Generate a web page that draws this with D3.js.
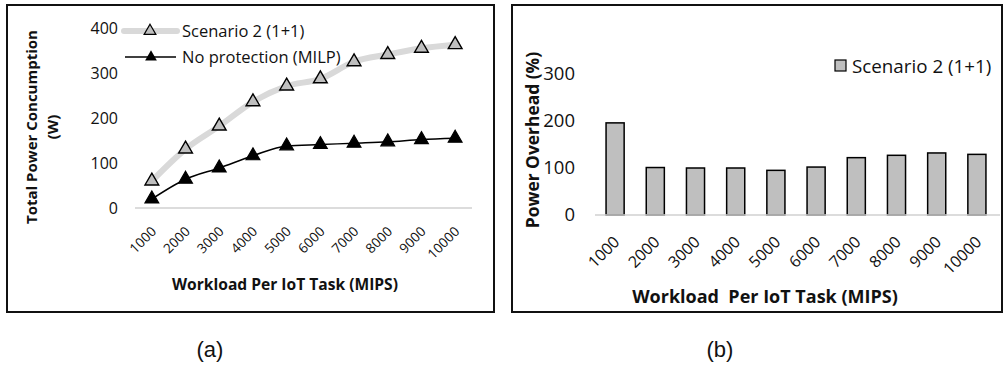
<!DOCTYPE html>
<html>
<head>
<meta charset="utf-8">
<script src="https://cdn.jsdelivr.net/npm/d3@7/dist/d3.min.js"></script>
<style>
  html, body { margin: 0; padding: 0; background: #fff; }
  svg { display: block; }
  text { font-family: "Open Sans", "Liberation Sans", sans-serif; fill: #111; }
</style>
</head>
<body>
<svg id="chart" width="1003" height="367"></svg>
<script>
// Workload categories (MIPS per IoT task)
const workloads = ["1000", "2000", "3000", "4000", "5000", "6000", "7000", "8000", "9000", "10000"];
// Total power consumption (W)
const scenario2Power = [60, 131, 182, 236, 271, 287, 325, 341, 355, 363];
const noProtectionPower = [20, 64, 89, 116, 138, 141, 144, 147, 152, 155];
// Power overhead of scenario 2 (%)
const overheadPct = [196, 101, 100, 100, 95, 102, 122, 127, 132, 129];
// Tick labels
const powerTicks = [0, 100, 200, 300, 400];
const overheadTicks = [0, 100, 200, 300];

const svg = d3.select("#chart");

// ---------- Panel (a): line chart ----------
const a = svg.append("g");
a.append("rect").attr("x", 7).attr("y", 5).attr("width", 487).attr("height", 307)
  .attr("fill", "none").attr("stroke", "#111").attr("stroke-width", 2);

const xa = d3.scaleBand().domain(workloads).range([135, 472]);
const ya = d3.scaleLinear().domain([0, 400]).range([208, 28]);

a.append("line").attr("x1", 135).attr("x2", 472)
  .attr("y1", ya(0)).attr("y2", ya(0)).attr("stroke", "#d0d0d0").attr("stroke-width", 1.5);

const yAxisA = d3.axisLeft(ya).tickValues(powerTicks).tickSize(0).tickPadding(0);
a.append("g").attr("transform", "translate(118,0)").call(yAxisA)
  .call(g => g.select(".domain").remove())
  .selectAll("text").style("font-size", "16px").attr("fill", "#111");

// tick groups are already centred on each band, so labels only need the offset
const xAxisA = d3.axisBottom(xa).tickSize(0).tickPadding(0);
a.append("g").call(xAxisA)
  .call(g => g.select(".domain").remove())
  .selectAll("text")
  .style("font-size", "13.5px")
  .attr("fill", "#111")
  .attr("text-anchor", "end")
  .attr("dy", "0.35em")
  .attr("y", 0)
  .attr("transform", "translate(2,229) rotate(-45)");

const cx = d => xa(d) + xa.bandwidth() / 2;
const tri = d3.symbol().type(d3.symbolTriangle).size(82);

const lineGen = d3.line().curve(d3.curveMonotoneX);

a.append("path")
  .attr("d", lineGen(workloads.map((w, i) => [cx(w), ya(scenario2Power[i])])))
  .attr("fill", "none").attr("stroke", "#d9d9d9").attr("stroke-width", 6).attr("stroke-linecap", "round");
a.append("path")
  .attr("d", lineGen(workloads.map((w, i) => [cx(w), ya(noProtectionPower[i])])))
  .attr("fill", "none").attr("stroke", "#000").attr("stroke-width", 1.5);

a.selectAll(".m2").data(scenario2Power).join("path")
  .attr("transform", (v, i) => `translate(${cx(workloads[i])},${ya(v)})`)
  .attr("d", tri).attr("fill", "#bfbfbf").attr("stroke", "#000").attr("stroke-width", 1.4);
a.selectAll(".mn").data(noProtectionPower).join("path")
  .attr("transform", (v, i) => `translate(${cx(workloads[i])},${ya(v)})`)
  .attr("d", tri).attr("fill", "#000").attr("stroke", "#000").attr("stroke-width", 1.2);

// legend (a)
const la = a.append("g");
la.append("line").attr("x1", 124).attr("x2", 177).attr("y1", 31).attr("y2", 31)
  .attr("stroke", "#d9d9d9").attr("stroke-width", 6).attr("stroke-linecap", "round");
la.append("path").attr("transform", "translate(150,31)")
  .attr("d", d3.symbol().type(d3.symbolTriangle).size(60)).attr("fill", "#bfbfbf").attr("stroke", "#000").attr("stroke-width", 1.2);
la.append("text").attr("x", 182).attr("y", 31).attr("dy", "0.35em").style("font-size", "16.5px").text("Scenario 2 (1+1)");
la.append("line").attr("x1", 125).attr("x2", 176).attr("y1", 57).attr("y2", 57)
  .attr("stroke", "#000").attr("stroke-width", 1.5);
la.append("path").attr("transform", "translate(151,57)")
  .attr("d", d3.symbol().type(d3.symbolTriangle).size(60)).attr("fill", "#000");
la.append("text").attr("x", 182).attr("y", 57).attr("dy", "0.35em").style("font-size", "16.5px").text("No protection (MILP)");

// axis titles (a)
a.append("text").attr("transform", "translate(32,127) rotate(-90)").attr("text-anchor", "middle")
  .attr("dy", "0.35em").style("font-size", "15px").style("font-weight", "bold").text("Total Power Concumption");
a.append("text").attr("transform", "translate(53,127) rotate(-90)").attr("text-anchor", "middle")
  .attr("dy", "0.35em").style("font-size", "15px").style("font-weight", "bold").text("(W)");
a.append("text").attr("x", 285).attr("y", 285).attr("text-anchor", "middle").attr("dy", "0.35em")
  .style("font-size", "15.6px").style("font-weight", "bold").text("Workload Per IoT Task (MIPS)");

// ---------- Panel (b): bar chart ----------
const b = svg.append("g");
b.append("rect").attr("x", 512).attr("y", 5).attr("width", 490).attr("height", 307)
  .attr("fill", "none").attr("stroke", "#111").attr("stroke-width", 2);

const xb = d3.scaleBand().domain(workloads).range([595, 997]).paddingInner(0.55).paddingOuter(0.275);
const yb = d3.scaleLinear().domain([0, 300]).range([215, 74]);

b.selectAll(".bar").data(overheadPct).join("rect")
  .attr("x", (v, i) => xb(workloads[i]))
  .attr("y", v => yb(v))
  .attr("width", xb.bandwidth())
  .attr("height", v => yb(0) - yb(v))
  .attr("fill", "#bfbfbf").attr("stroke", "#000").attr("stroke-width", 1.5);

b.append("line").attr("x1", 595).attr("x2", 1000)
  .attr("y1", yb(0)).attr("y2", yb(0)).attr("stroke", "#d0d0d0").attr("stroke-width", 1.5);

const yAxisB = d3.axisLeft(yb).tickValues(overheadTicks).tickSize(0).tickPadding(0);
b.append("g").attr("transform", "translate(575,0)").call(yAxisB)
  .call(g => g.select(".domain").remove())
  .selectAll("text").style("font-size", "18.5px").attr("fill", "#111");

const xAxisB = d3.axisBottom(xb).tickSize(0).tickPadding(0);
b.append("g").call(xAxisB)
  .call(g => g.select(".domain").remove())
  .selectAll("text")
  .style("font-size", "16px")
  .attr("fill", "#111")
  .attr("text-anchor", "end")
  .attr("dy", "0.35em")
  .attr("y", 0)
  .attr("transform", "translate(1.5,239) rotate(-45)");

// legend (b)
b.append("rect").attr("x", 835).attr("y", 60).attr("width", 11).attr("height", 11)
  .attr("fill", "#bfbfbf").attr("stroke", "#000").attr("stroke-width", 1.2);
b.append("text").attr("x", 852).attr("y", 66).attr("dy", "0.35em").style("font-size", "18.8px").text("Scenario 2 (1+1)");

// axis titles (b)
b.append("text").attr("transform", "translate(533,140) rotate(-90)").attr("text-anchor", "middle")
  .attr("dy", "0.35em").style("font-size", "17.4px").style("font-weight", "bold").text("Power Overhead (%)");
b.append("text").attr("x", 765).attr("y", 297).attr("text-anchor", "middle").attr("dy", "0.35em")
  .style("font-size", "18px").style("font-weight", "bold").style("white-space", "pre")
  .text("Workload  Per IoT Task (MIPS)");

// ---------- Captions ----------
svg.append("text").attr("x", 210).attr("y", 357).attr("text-anchor", "middle")
  .style("font-family", "'Liberation Sans', Arial, sans-serif").style("font-size", "22px").text("(a)");
svg.append("text").attr("x", 720).attr("y", 357).attr("text-anchor", "middle")
  .style("font-family", "'Liberation Sans', Arial, sans-serif").style("font-size", "22px").text("(b)");
</script>
</body>
</html>
